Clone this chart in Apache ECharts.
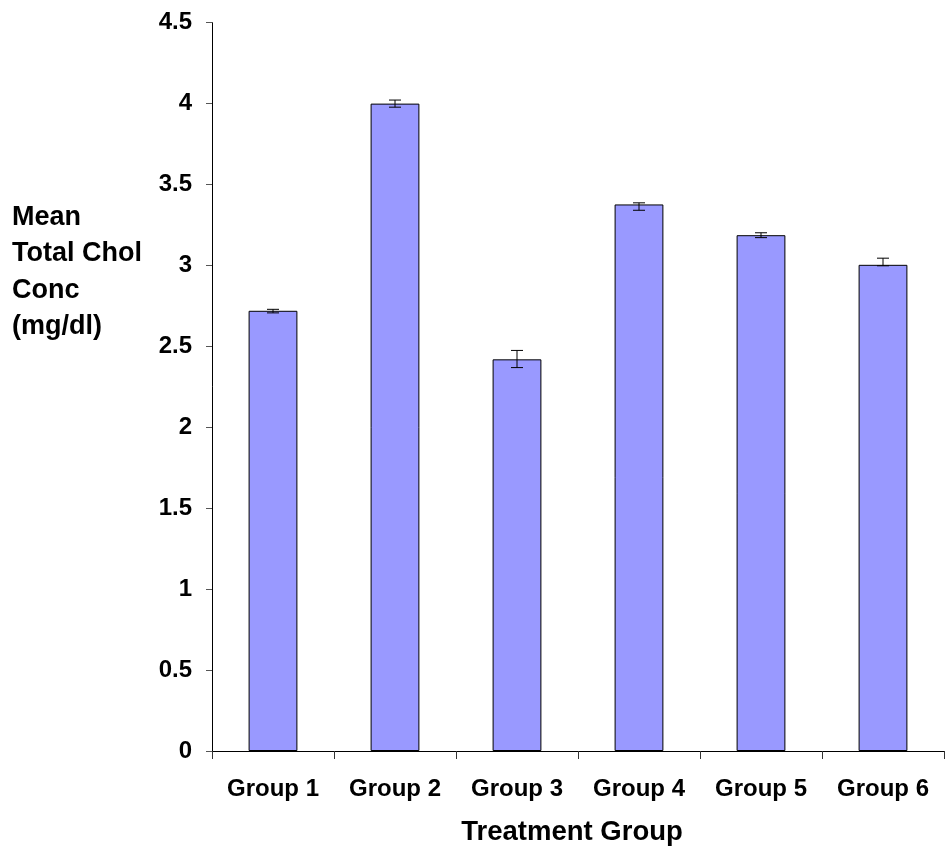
<!DOCTYPE html>
<html>
<head>
<meta charset="utf-8">
<script src="https://cdn.jsdelivr.net/npm/echarts@6/dist/echarts.min.js"></script>
<style>html,body{margin:0;padding:0;background:#fff;}#c{width:947px;height:846px;}</style>
</head>
<body>
<div id="c"></div>
<script>
const categories = ['Group 1', 'Group 2', 'Group 3', 'Group 4', 'Group 5', 'Group 6'];
const meanValues = [2.72, 4.00, 2.42, 3.377, 3.187, 3.004];
const errorLow = [2.707, 3.978, 2.369, 3.341, 3.172, 2.998];
const errorHigh = [2.729, 4.022, 2.475, 3.387, 3.202, 3.045];
const yTicks = [0, 0.5, 1, 1.5, 2, 2.5, 3, 3.5, 4, 4.5];

const FONT = 'Liberation Sans, Arial, sans-serif';
const chart = echarts.init(document.getElementById('c'), null, {renderer: 'canvas'});

const errData = categories.map((c, i) => [i, errorLow[i], errorHigh[i]]);

chart.setOption({
  animation: false,
  backgroundColor: '#ffffff',
  grid: {left: 212, right: 3, top: 22.7, bottom: 95, containLabel: false, outerBoundsMode: 'none'},
  xAxis: {
    type: 'category',
    data: categories,
    boundaryGap: true,
    axisLine: {show: true, lineStyle: {color: '#000', width: 1}},
    axisTick: {show: true, alignWithLabel: false, length: 8, lineStyle: {color: '#333'}},
    axisLabel: {margin: 26, color: '#000', fontFamily: FONT, fontWeight: 'bold', fontSize: 24},
    name: 'Treatment Group',
    nameLocation: 'middle',
    nameGap: 67,
    nameTextStyle: {color: '#000', fontFamily: FONT, fontWeight: 'bold', fontSize: 27.5, padding: [0, 12, 0, 0]}
  },
  yAxis: {
    type: 'value',
    min: yTicks[0],
    max: yTicks[yTicks.length - 1],
    interval: 0.5,
    splitLine: {show: false},
    axisLine: {show: true, lineStyle: {color: '#000', width: 1}},
    axisTick: {show: true, inside: false, length: 6, lineStyle: {color: '#555'}},
    axisLabel: {margin: 20, color: '#000', fontFamily: FONT, fontWeight: 'bold', fontSize: 24,
      padding: [4, 0, 0, 0],
      formatter: v => String(v)}
  },
  graphic: [{
    type: 'text',
    left: 12,
    top: 199,
    style: {
      text: 'Mean\nTotal Chol\nConc\n(mg/dl)',
      font: 'bold 27px ' + FONT,
      lineHeight: 36.5,
      fill: '#000'
    }
  }],
  series: [
    {
      type: 'bar',
      data: meanValues,
      barWidth: '40%',
      itemStyle: {color: '#9999FF', borderColor: '#000', borderWidth: 1}
    },
    {
      type: 'custom',
      data: errData,
      z: 10,
      renderItem: function (params, api) {
        const x = api.value(0);
        const lo = api.coord([x, api.value(1)]);
        const hi = api.coord([x, api.value(2)]);
        const hw = 6;
        const st = {stroke: '#000', lineWidth: 1};
        return {
          type: 'group',
          children: [
            {type: 'line', shape: {x1: hi[0], y1: hi[1], x2: lo[0], y2: lo[1]}, style: st},
            {type: 'line', shape: {x1: hi[0] - hw, y1: hi[1], x2: hi[0] + hw, y2: hi[1]}, style: st},
            {type: 'line', shape: {x1: lo[0] - hw, y1: lo[1], x2: lo[0] + hw, y2: lo[1]}, style: st}
          ]
        };
      }
    }
  ]
});
</script>
</body>
</html>
